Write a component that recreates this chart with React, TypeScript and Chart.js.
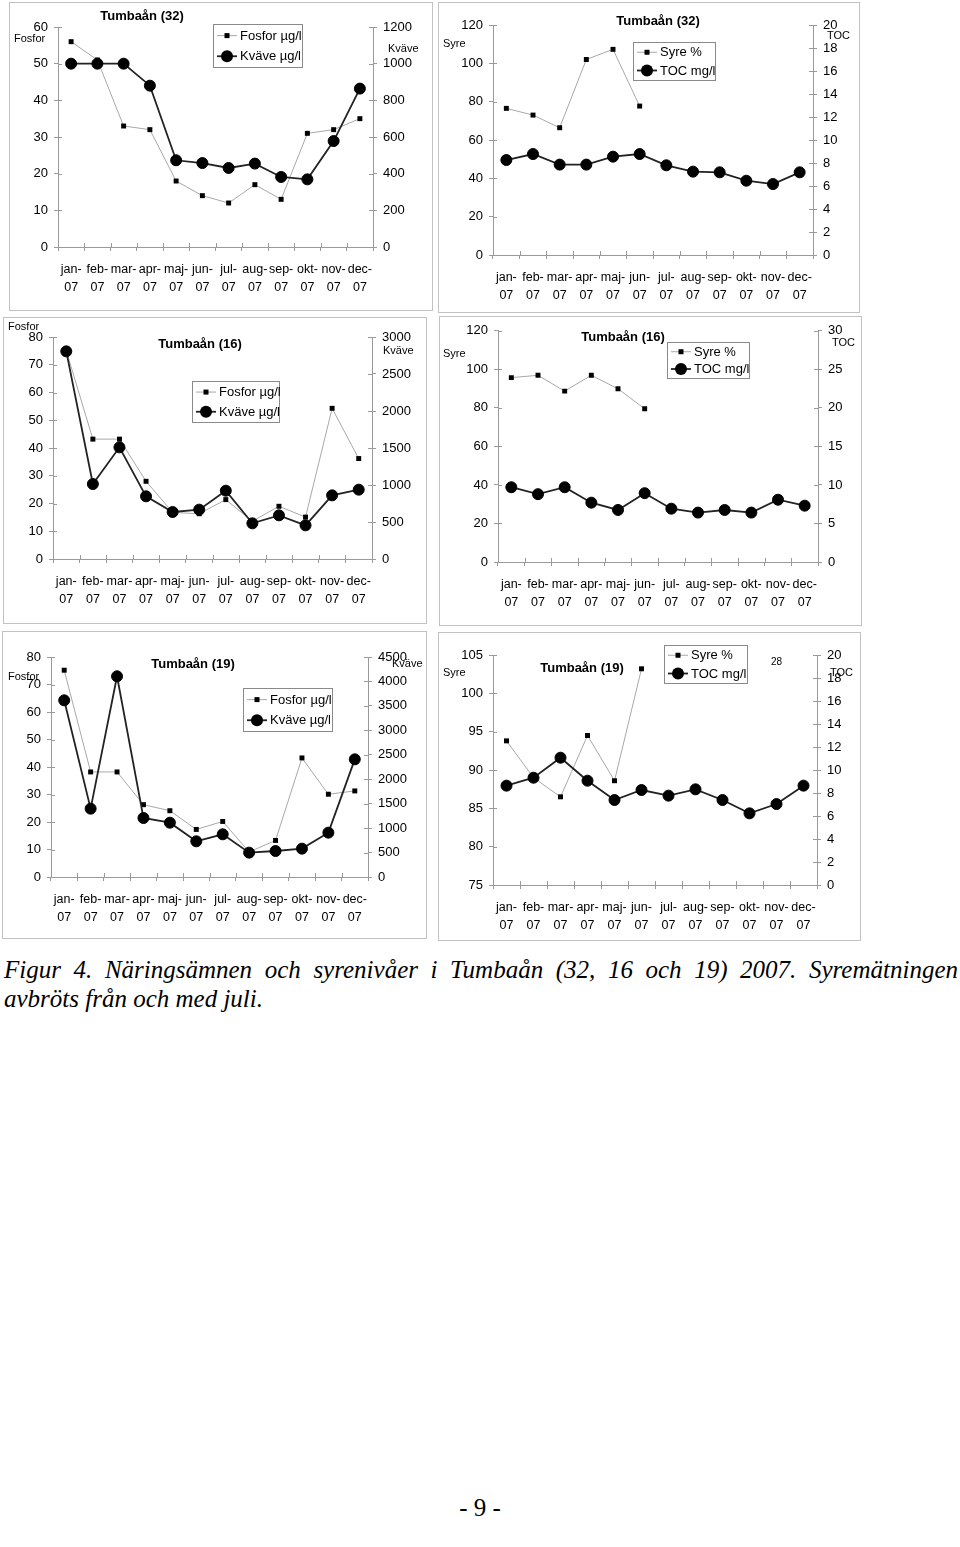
import React, { useEffect, useRef } from 'react';
import { Chart, registerables } from 'chart.js';

Chart.register(...registerables);

// ---------- data ----------
const months = ['jan', 'feb', 'mar', 'apr', 'maj', 'jun', 'jul', 'aug', 'sep', 'okt', 'nov', 'dec'];
const yearSuffix = '07';

const fosfor32 = [56, 51, 33, 32, 18, 14, 12, 17, 13, 31, 32, 35];
const kvave32 = [1000, 1000, 1000, 880, 473, 458, 431, 455, 382, 369, 578, 864];
const syre32 = [76.5, 73, 66.4, 102, 107.3, 77.7, null, null, null, null, null, null];
const toc32 = [8.26, 8.78, 7.86, 7.86, 8.55, 8.78, 7.8, 7.25, 7.19, 6.46, 6.17, 7.19];

const fosfor16 = [75, 43.2, 43.2, 28, 16.8, 16.3, 21.4, 13.6, 19, 15.1, 54.3, 36.2];
const kvave16 = [2806, 1013, 1509, 847, 635, 667, 923, 482, 590, 455, 860, 937];
const syre16 = [95.7, 96.9, 88.7, 96.9, 89.9, 79.5, null, null, null, null, null, null];
const toc16 = [9.7, 8.8, 9.7, 7.7, 6.75, 8.93, 6.92, 6.41, 6.75, 6.41, 8.08, 7.31];

const fosfor19 = [75.2, 38.2, 38.2, 26.3, 24.1, 17.3, 20.2, 9.1, 13.3, 43.3, 30.1, 31.3];
const kvave19 = [3614, 1398, 4105, 1207, 1111, 730, 873, 498, 532, 580, 907, 2407];
const syre19 = [93.8, 89, 86.5, 94.5, 88.6, 103.2, null, null, null, null, null, null];
const toc19 = [8.64, 9.33, 11.07, 9.07, 7.39, 8.26, 7.77, 8.32, 7.39, 6.23, 7.04, 8.64];

const nutrientNames = ['Fosfor µg/l', 'Kväve µg/l'];
const oxygenNames = ['Syre %', 'TOC mg/l'];

const captionLine1 = 'Figur 4. Näringsämnen och syrenivåer i Tumbaån (32, 16 och 19) 2007. Syremätningen';
const captionLine2 = 'avbröts från och med juli.';
const pageNumber = '- 9 -';

const monthLabels = months.map((m) => [m + '-', yearSuffix]);

// ---------- styles ----------
const FONT = '"Liberation Sans", Arial, Helvetica, sans-serif';
const AXIS = '#9a9a9a';
const THIN = '#a8a8a8';
const THICK = '#222222';

// ---------- layout (page coordinates) ----------
type Panel = {
  box: [number, number, number, number];
  axes: { left: number; right: number; top: number; bottom: number };
  yL: [number, number, number];
  yR: [number, number, number];
  thin: (number | null)[];
  thick: (number | null)[];
  names: string[];
  title: string;
  titlePos: [number, number];
  notes: { text: string; x: number; y: number; size: number }[];
  legend: [number, number, number, number];
};

const PANELS: Panel[] = [
  {
    box: [10, 3, 432, 310],
    axes: { left: 58, right: 373, top: 27, bottom: 247 },
    yL: [0, 60, 10], yR: [0, 1200, 200],
    thin: fosfor32, thick: kvave32, names: nutrientNames,
    title: 'Tumbaån (32)', titlePos: [142, 16],
    notes: [{ text: 'Fosfor', x: 14, y: 39, size: 11 }, { text: 'Kväve', x: 388, y: 49, size: 11 }],
    legend: [213, 24, 302, 67],
  },
  {
    box: [439, 3, 859, 312],
    axes: { left: 493, right: 813, top: 25, bottom: 255 },
    yL: [0, 120, 20], yR: [0, 20, 2],
    thin: syre32, thick: toc32, names: oxygenNames,
    title: 'Tumbaån (32)', titlePos: [658, 21],
    notes: [{ text: 'Syre', x: 443, y: 44, size: 11 }, { text: 'TOC', x: 827, y: 36, size: 11 }],
    legend: [633, 42, 715, 80],
  },
  {
    box: [4, 318, 426, 623],
    axes: { left: 53, right: 372, top: 337, bottom: 559 },
    yL: [0, 80, 10], yR: [0, 3000, 500],
    thin: fosfor16, thick: kvave16, names: nutrientNames,
    title: 'Tumbaån (16)', titlePos: [200, 344],
    notes: [{ text: 'Fosfor', x: 8, y: 327, size: 11 }, { text: 'Kväve', x: 383, y: 351, size: 11 }],
    legend: [192, 381, 279, 422],
  },
  {
    box: [440, 317, 861, 625],
    axes: { left: 498, right: 818, top: 328, bottom: 562 },
    yL: [0, 120, 20], yR: [0, 30, 5],
    thin: syre16, thick: toc16, names: oxygenNames,
    title: 'Tumbaån (16)', titlePos: [623, 337],
    notes: [{ text: 'Syre', x: 443, y: 354, size: 11 }, { text: 'TOC', x: 832, y: 343, size: 11 }],
    legend: [667, 342, 749, 378],
  },
  {
    box: [3, 632, 426, 938],
    axes: { left: 51, right: 368, top: 657, bottom: 877 },
    yL: [0, 80, 10], yR: [0, 4500, 500],
    thin: fosfor19, thick: kvave19, names: nutrientNames,
    title: 'Tumbaån (19)', titlePos: [193, 664],
    notes: [{ text: 'Fosfor', x: 8, y: 677, size: 11 }, { text: 'Kväve', x: 392, y: 664, size: 11 }],
    legend: [243, 688, 332, 731],
  },
  {
    box: [439, 633, 860, 940],
    axes: { left: 493, right: 817, top: 655, bottom: 885 },
    yL: [75, 105, 5], yR: [0, 20, 2],
    thin: syre19, thick: toc19, names: oxygenNames,
    title: 'Tumbaån (19)', titlePos: [582, 668],
    notes: [
      { text: 'Syre', x: 443, y: 673, size: 11 },
      { text: 'TOC', x: 830, y: 673, size: 11 },
      { text: '28', x: 771, y: 662, size: 10 },
    ],
    legend: [664, 645, 747, 683],
  },
];

const innerTicks = {
  id: 'innerTicks',
  beforeDatasetsDraw(chart: any) {
    const ctx = chart.ctx;
    const { x, y, y1 } = chart.scales;
    ctx.save();
    ctx.strokeStyle = AXIS;
    ctx.lineWidth = 1;
    ctx.beginPath();
    y.ticks.forEach((_t: any, i: number) => {
      const py = Math.round(y.getPixelForTick(i)) + 0.5;
      ctx.moveTo(y.right, py);
      ctx.lineTo(y.right + 4, py);
    });
    y1.ticks.forEach((_t: any, i: number) => {
      const py = Math.round(y1.getPixelForTick(i)) + 0.5;
      ctx.moveTo(y1.left, py);
      ctx.lineTo(y1.left - 4, py);
    });
    const n = x.ticks.length;
    for (let i = 0; i <= n; i++) {
      const px = Math.round(x.left + (i * x.width) / n) + 0.5;
      ctx.moveTo(px, x.top);
      ctx.lineTo(px, x.top - 4);
    }
    ctx.stroke();
    ctx.restore();
  },
};

function drawMarker(ctx: CanvasRenderingContext2D, kind: 'rect' | 'circle', x: number, y: number) {
  ctx.fillStyle = '#000';
  if (kind === 'rect') {
    ctx.fillRect(x - 2.5, y - 2.5, 5, 5);
  } else {
    ctx.beginPath();
    ctx.arc(x, y, 6, 0, Math.PI * 2);
    ctx.fill();
  }
}

function decoPlugin(p: Panel) {
  return {
    id: 'deco',
    afterDraw(chart: any) {
      const ctx: CanvasRenderingContext2D = chart.ctx;
      const ox = p.box[0];
      const oy = p.box[1];
      ctx.save();
      ctx.fillStyle = '#000';
      ctx.textBaseline = 'middle';
      ctx.textAlign = 'center';
      ctx.font = 'bold 13px ' + FONT;
      ctx.fillText(p.title, p.titlePos[0] - ox, p.titlePos[1] - oy);
      ctx.textAlign = 'left';
      p.notes.forEach((n) => {
        ctx.font = `${n.size}px ${FONT}`;
        ctx.fillText(n.text, n.x - ox, n.y - oy);
      });
      // legend
      const [lx1, ly1, lx2, ly2] = p.legend;
      const bx = lx1 - ox;
      const by = ly1 - oy;
      const bw = lx2 - lx1;
      const bh = ly2 - ly1;
      ctx.fillStyle = '#fff';
      ctx.fillRect(bx, by, bw, bh);
      ctx.strokeStyle = '#8a8a8a';
      ctx.lineWidth = 1;
      ctx.strokeRect(Math.round(bx) + 0.5, Math.round(by) + 0.5, bw, bh);
      const rows = [by + bh * 0.27, by + bh * 0.75];
      rows.forEach((ry, i) => {
        ctx.strokeStyle = i === 0 ? THIN : THICK;
        ctx.lineWidth = i === 0 ? 1 : 1.8;
        ctx.beginPath();
        ctx.moveTo(bx + 4, ry);
        ctx.lineTo(bx + 24, ry);
        ctx.stroke();
        drawMarker(ctx, i === 0 ? 'rect' : 'circle', bx + 14, ry);
        ctx.fillStyle = '#000';
        ctx.font = '13px ' + FONT;
        ctx.textAlign = 'left';
        ctx.fillText(p.names[i], bx + 27, ry + 0.5);
      });
      ctx.restore();
    },
  };
}

const plainNumber = (v: any) => String(v);

function buildConfig(p: Panel): any {
  const [bx, by, bx2, by2] = p.box;
  const axisCommon = {
    grid: { display: true, drawOnChartArea: false, drawTicks: true, tickLength: 4, color: AXIS, lineWidth: 1 },
    border: { display: true, color: AXIS, width: 1 },
  };
  const tickFont = { family: FONT, size: 13 };
  return {
    type: 'line',
    data: {
      labels: monthLabels,
      datasets: [
        {
          label: p.names[0],
          data: p.thin,
          yAxisID: 'y',
          borderColor: THIN,
          borderWidth: 1,
          pointStyle: 'rect',
          pointRadius: 3.5,
          pointBackgroundColor: '#000',
          pointBorderColor: '#000',
          pointBorderWidth: 0,
          spanGaps: false,
          tension: 0,
          order: 1,
        },
        {
          label: p.names[1],
          data: p.thick,
          yAxisID: 'y1',
          borderColor: THICK,
          borderWidth: 1.8,
          pointStyle: 'circle',
          pointRadius: 5.5,
          pointBackgroundColor: '#000',
          pointBorderColor: '#000',
          pointBorderWidth: 1,
          tension: 0,
          order: 0,
        },
      ],
    },
    options: {
      responsive: false,
      maintainAspectRatio: false,
      animation: false,
      events: [],
      layout: { padding: { top: p.axes.top - by, left: 0, right: 0, bottom: 0 } },
      plugins: { legend: { display: false }, title: { display: false }, tooltip: { enabled: false } },
      scales: {
        x: {
          type: 'category',
          offset: true,
          ...axisCommon,
          grid: { ...axisCommon.grid, offset: true },
          ticks: {
            autoSkip: false,
            maxRotation: 0,
            minRotation: 0,
            padding: 9,
            color: '#000',
            font: { family: FONT, size: 12.5, lineHeight: 1.45 },
          },
          afterFit: (s: any) => {
            s.height = by2 - p.axes.bottom;
          },
        },
        y: {
          position: 'left',
          min: p.yL[0],
          max: p.yL[1],
          ...axisCommon,
          ticks: { stepSize: p.yL[2], padding: 6, color: '#000', font: tickFont, callback: plainNumber },
          afterFit: (s: any) => {
            s.width = p.axes.left - bx;
          },
        },
        y1: {
          position: 'right',
          min: p.yR[0],
          max: p.yR[1],
          ...axisCommon,
          ticks: { stepSize: p.yR[2], padding: 6, color: '#000', font: tickFont, callback: plainNumber },
          afterFit: (s: any) => {
            s.width = bx2 - p.axes.right;
          },
        },
      },
    },
    plugins: [innerTicks, decoPlugin(p)],
  };
}

function ChartPanel({ p }: { p: Panel }) {
  const ref = useRef<HTMLCanvasElement>(null);
  const [x1, y1, x2, y2] = p.box;
  const w = x2 - x1;
  const h = y2 - y1;
  useEffect(() => {
    if (!ref.current) return;
    const chart = new Chart(ref.current, buildConfig(p));
    return () => chart.destroy();
  }, [p]);
  return (
    <>
      <canvas
        ref={ref}
        width={w}
        height={h}
        style={{ position: 'absolute', left: x1, top: y1, width: w, height: h }}
      />
      <div
        style={{
          position: 'absolute',
          left: x1 - 0.75,
          top: y1 - 0.75,
          width: w + 1.5,
          height: h + 1.5,
          border: '1.5px solid #c2c2c2',
          boxSizing: 'border-box',
          pointerEvents: 'none',
        }}
      />
    </>
  );
}

export default function App() {
  const serif = '"Liberation Serif", "Times New Roman", Times, serif';
  return (
    <div style={{ position: 'absolute', left: 0, top: 0, width: 960, height: 1547, background: '#fff', overflow: 'hidden' }}>
      {PANELS.map((p, i) => (
        <ChartPanel key={i} p={p} />
      ))}
      <div
        style={{
          position: 'absolute',
          left: 4,
          top: 955,
          width: 954,
          fontFamily: serif,
          fontStyle: 'italic',
          fontSize: 25,
          lineHeight: '29px',
          color: '#000',
        }}
      >
        <div style={{ textAlign: 'justify', textAlignLast: 'justify' as any }}>{captionLine1}</div>
        <div style={{ textAlign: 'left' }}>{captionLine2}</div>
      </div>
      <div
        style={{
          position: 'absolute',
          left: 0,
          top: 1493,
          width: 960,
          textAlign: 'center',
          fontFamily: serif,
          fontSize: 25,
          lineHeight: '29px',
          color: '#000',
        }}
      >
        {pageNumber}
      </div>
    </div>
  );
}
